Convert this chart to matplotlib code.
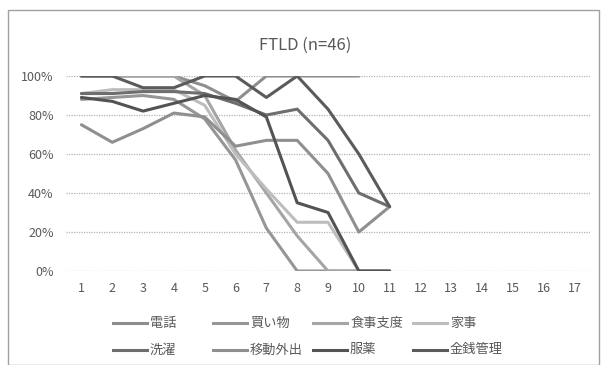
import matplotlib
matplotlib.use('Agg')
import matplotlib.pyplot as plt
import numpy as np
from matplotlib.lines import Line2D
from matplotlib.patches import Rectangle

plt.rcParams['font.family'] = ['Noto Sans CJK JP', 'DejaVu Sans']

# Stages on the x axis and labels of the legend
stages = list(range(1, 18))
labels = ['電話', '買い物', '食事支度', '家事', '洗濯', '移動外出', '服薬', '金銭管理']
colors = ['#8e8e8e', '#969696', '#a5a5a5', '#bdbdbd', '#6e6e6e', '#8f8f8f', '#535353', '#5b5b5b']

# Percent independent per stage, stages 1..11
nan = np.nan
denwa     = [100, 100, 100, 100, 95, 87, 100, 100, 100, 100, nan]
kaimono   = [88, 89, 90, 88, 78, 57, 22, 0, 0, 0, 0]
shokuji   = [100, 100, 100, 100, 90, 62, 40, 18, 0, 0, 0]
kaji      = [91, 93, 93, 93, 85, 60, 42, 25, 25, 0, 0]
sentaku   = [91, 91, 92, 92, 91, 86, 80, 83, 67, 40, 33]
idou      = [75, 66, 73, 81, 79, 64, 67, 67, 50, 20, 33]
fukuyaku  = [89, 87, 82, 86, 90, 88, 79, 35, 30, 0, 0]
kinsen    = [100, 100, 94, 94, 100, 100, 89, 100, 83, 60, 33]
series = [denwa, kaimono, shokuji, kaji, sentaku, idou, fukuyaku, kinsen]

W, H = 601, 365
fig = plt.figure(figsize=(W / 100, H / 100), dpi=100)
ax = fig.add_axes([66 / W, (H - 271) / H, (590 - 66) / W, (271 - 76) / H])

for vals, c in zip(series, colors):
    v = np.array(vals, dtype=float) / 100
    ax.plot(stages[:len(v)], v, color=c, lw=2.2, solid_capstyle='round', zorder=3)

ax.set_xlim(0.5, 17.5)
ax.set_ylim(0, 1)
ax.set_xticks(stages)
ax.set_yticks(np.arange(0, 1.01, 0.2))
ax.set_yticklabels([f'{int(round(t * 100))}%' for t in np.arange(0, 1.01, 0.2)])
ax.tick_params(axis='both', length=0, labelsize=9, colors='#595959')
ax.tick_params(axis='y', pad=9)
ax.tick_params(axis='x', pad=8)
ax.grid(axis='y', color='#b5b5b5', lw=0.9, ls=(0, (1, 1)))
ax.set_axisbelow(True)
for spine in ax.spines.values():
    spine.set_visible(False)

fig.text(305 / W, 1 - 45 / H, 'FTLD (n=46)', ha='center', va='center', fontsize=12, color='#595959')

# Legend drawn by hand to follow the spacing of the original
xs = [113, 213, 313, 413]
ys = [323, 350]
for i, (lab, c) in enumerate(zip(labels, colors)):
    x0 = xs[i % 4]
    y0 = ys[i // 4]
    fig.add_artist(Line2D([x0 / W, (x0 + 34) / W], [1 - y0 / H, 1 - y0 / H], color=c, lw=2.2,
                          transform=fig.transFigure))
    fig.text((x0 + 37) / W, 1 - y0 / H, lab, ha='left', va='center', fontsize=9.5, color='#595959')

# Chart area border
fig.add_artist(Rectangle((8 / W, 0), (599 - 8) / W, 1 - 10 / H, transform=fig.transFigure,
                         fill=False, edgecolor='#a0a0a0', lw=1))

fig.savefig('out.png', dpi=100)
